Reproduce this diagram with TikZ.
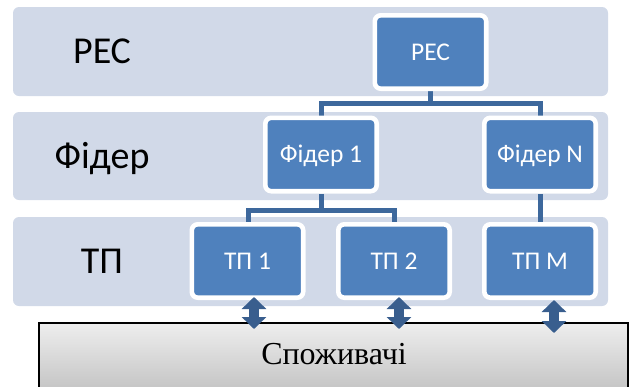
\documentclass[tikz,border=0pt]{standalone}
\usepackage{fontspec}
\setmainfont{Liberation Serif}
\newfontfamily\calib{Carlito}
\usetikzlibrary{arrows.meta}
\definecolor{bandfill}{HTML}{D1D9E8}
\definecolor{boxblue}{HTML}{4F81BD}
\definecolor{lineblue}{HTML}{3D689C}
\definecolor{arrowblue}{HTML}{395E8E}
\definecolor{constop}{HTML}{EEEEEE}
\definecolor{consbot}{HTML}{BEBEBE}
\pgfdeclarelayer{bg}
\pgfsetlayers{bg,main}
\tikzset{
  band/.style={fill=bandfill, rounded corners=6pt},
  lab/.style={font=\calib\fontsize{38}{44}\selectfont, anchor=base, inner sep=0pt},
  boxnode/.style={draw=white, line width=4.6pt, fill=boxblue, rounded corners=6pt,
    minimum width=111.4pt, minimum height=73.4pt, inner sep=0pt, text=white,
    text height=16.5pt, text depth=0pt, font=\calib\fontsize{25.5}{30}\selectfont},
  conn/.style={draw=lineblue, line width=5pt},
  consbox/.style={draw=black, line width=1.8pt, top color=constop, bottom color=consbot,
    minimum width=589pt, minimum height=77pt, inner sep=0pt},
  constext/.style={font=\fontsize{32}{38}\selectfont, inner sep=0pt, text height=21pt, text depth=0pt},
  darrow/.style={draw=arrowblue, line width=10pt,
    {Triangle[width=24pt,length=12pt]}-{Triangle[width=24pt,length=12pt]}}
}
\begin{document}
\begin{tikzpicture}[x=1pt,y=-1pt]
\useasboundingbox (0,0) rectangle (631,386);
\clip (0,0) rectangle (631,386);
% level labels
\node[lab] (l1) at (102,63) {РЕС};
\node[lab] (l2) at (102,168) {Фідер};
\node[lab] (l3) at (102,273) {ТП};
% boxes
\node[boxnode] (pec) at (430.5,52) {РЕС};
\node[boxnode] (f1) at (321,154.5) {Фідер 1};
\node[boxnode] (fn) at (540,154.5) {Фідер N};
\node[boxnode] (t1) at (247.5,261) {ТП 1};
\node[boxnode] (t2) at (394,261) {ТП 2};
\node[boxnode] (tm) at (540,261) {ТП M};
\coordinate (bus1) at (430.5,103);
\coordinate (bus2) at (321,210);
\begin{pgfonlayer}{bg}
\fill[band] (13,7) rectangle (608,96);
\fill[band] (13,112) rectangle (608,200);
\fill[band] (13,217) rectangle (608,306);
\draw[conn] (pec.south) -- (bus1);
\draw[conn] (f1.north) -- (f1.north |- bus1) -- (fn.north |- bus1) -- (fn.north);
\draw[conn] (f1.south) -- (bus2);
\draw[conn] ([xshift=0.5pt]t1.north) -- ([xshift=0.5pt]t1.north |- bus2) -- (t2.north |- bus2) -- (t2.north);
\draw[conn] (fn.south) -- (tm.north);
\end{pgfonlayer}
% consumers
\node[consbox] (cons) at (333.5,361.5) {};
\node[constext] (consl) at (334,354) {Споживачі};
% double arrows
\coordinate (a1t) at (254,297);
\coordinate (a1b) at (254,329);
\coordinate (a2t) at (399,297);
\coordinate (a2b) at (399,329);
\coordinate (a3t) at (554,300);
\coordinate (a3b) at (554,333);
\draw[darrow] (a1t) -- (a1b);
\draw[darrow] (a2t) -- (a2b);
\draw[darrow] (a3t) -- (a3b);
\end{tikzpicture}
\end{document}
